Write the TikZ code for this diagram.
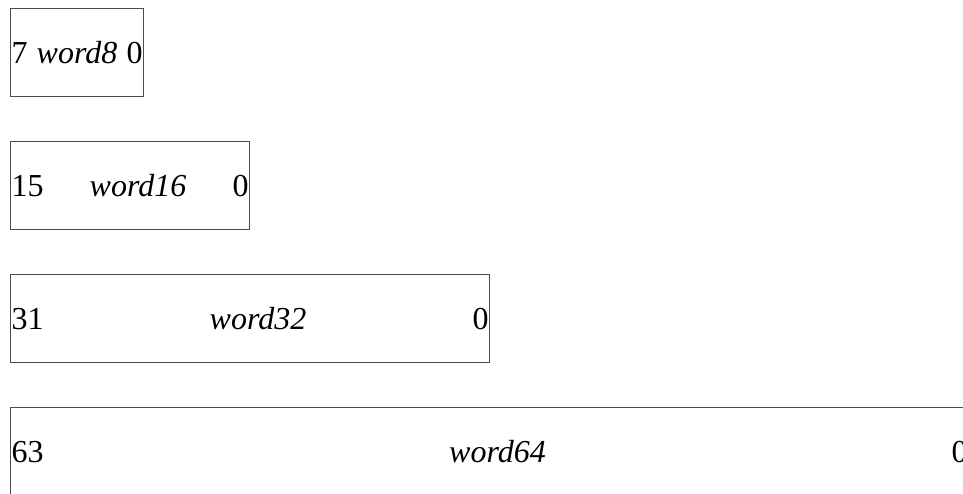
\documentclass[tikz,border=0pt]{standalone}
\usepackage{fontspec}
\setmainfont{Liberation Serif}

\begin{document}
\begin{tikzpicture}[%
        x = 0.5pt,
        y = -0.5pt,
        wordbox/.style = {%
            draw = black!70,
            line width = 0.5pt,
            anchor = north west,
            inner xsep = 0.5pt,
            inner ysep = 0pt,
            minimum height = 44pt,
            font = \fontsize{16}{19}\selectfont
        }
    ]

        % Fix the page to the size of the reference.
        \useasboundingbox (0, 0) rectangle (963, 493);

        % Top left corners of the four words.
        \coordinate (C8) at (10, 8);
        \coordinate (C16) at (10, 141);
        \coordinate (C32) at (10, 274);
        \coordinate (C64) at (10, 407);

        % One box per word size, bit numbers at both ends.
        \node[wordbox] (w8) at (C8)
            {\makebox[65.5pt]{7\hfill\textit{word8}\hfill 0}};
        \node[wordbox] (w16) at (C16)
            {\makebox[118.5pt]{15\hfill\textit{word16}\hfill 0}};
        \node[wordbox] (w32) at (C32)
            {\makebox[238.5pt]{31\hfill\textit{word32}\hfill 0}};
        \node[wordbox] (w64) at (C64)
            {\makebox[478pt]{63\hfill\textit{word64}\hfill 0}};
    \end{tikzpicture}
\end{document}
